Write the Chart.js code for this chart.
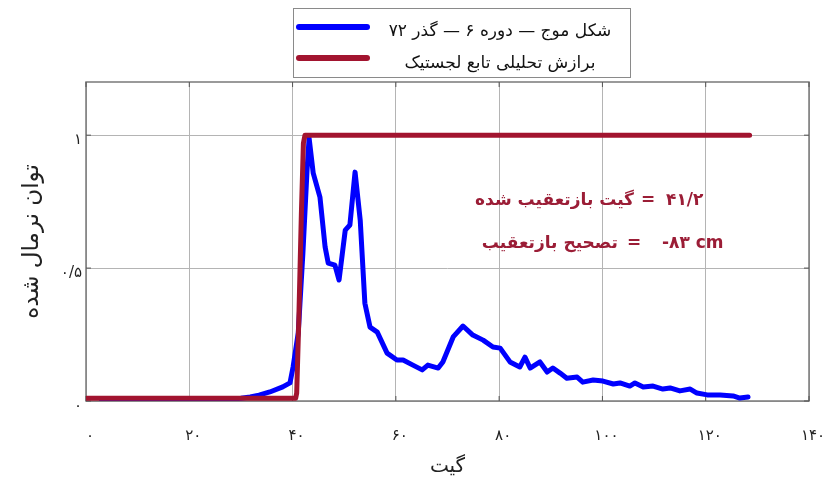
<!DOCTYPE html>
<html><head><meta charset="utf-8">
<script src="https://cdn.jsdelivr.net/npm/chart.js@4"></script>
<style>html,body{margin:0;padding:0;background:#fff;}</style>
</head><body>
<canvas id="c" width="834" height="479"></canvas>
<script>
// ---- data ----
const waveGate = [3, 10, 20, 26, 30, 31.8, 33.5, 35.6, 38.1, 39.5, 40.1, 41.1, 42.0, 42.8, 43.2, 44.0, 45.3, 46.3, 46.9, 48.2, 49.0, 50.2, 51.1, 52.1, 53.1, 54.0, 55.0, 56.4, 58.3, 60.2, 61.4, 63.3, 65.1, 66.2, 68.2, 69.1, 71.1, 73.0, 74.9, 76.9, 78.8, 80.2, 82.1, 84.0, 85.0, 86.0, 87.9, 89.3, 90.4, 91.8, 93.1, 95.1, 96.2, 98.2, 100.1, 102.1, 103.4, 105.3, 106.3, 107.9, 109.8, 111.7, 113.1, 115.0, 117.0, 118.3, 120.3, 122.8, 125.3, 126.6, 128.2];
const wavePower = [0.0, 0.0, 0.002, 0.006, 0.01, 0.015, 0.022, 0.034, 0.053, 0.068, 0.128, 0.256, 0.556, 0.868, 0.989, 0.857, 0.767, 0.579, 0.519, 0.511, 0.455, 0.643, 0.662, 0.861, 0.680, 0.368, 0.278, 0.259, 0.180, 0.154, 0.154, 0.135, 0.117, 0.135, 0.124, 0.147, 0.241, 0.282, 0.248, 0.229, 0.203, 0.199, 0.147, 0.128, 0.165, 0.124, 0.147, 0.109, 0.124, 0.105, 0.086, 0.090, 0.071, 0.079, 0.075, 0.064, 0.068, 0.056, 0.068, 0.053, 0.056, 0.045, 0.049, 0.038, 0.045, 0.030, 0.023, 0.023, 0.019, 0.011, 0.015];
const fitGate = [0, 40.6, 40.8, 41.2, 41.45, 41.7, 42.1, 42.4, 128.5];
const fitPower = [0.01, 0.01, 0.03, 0.3, 0.5, 0.7, 0.97, 1.0, 1.0];
const xTickValues = [0, 20, 40, 60, 80, 100, 120, 140];
const yTickValues = [0, 0.5, 1];
const seriesLabels = ['شکل موج — دوره ۶ — گذر ۷۲', 'برازش تحلیلی تابع لجستیک'];
const xTitle = 'گیت';
const yTitle = 'توان نرمال شده';
const noteLabels = ['گیت بازتعقیب شده', 'تصحیح بازتعقیب'];
const noteValues = ['۴۱/۲', '-۸۳ cm'];

const BLUE = '#0000ff', RED = '#a2142f', NOTE = '#9b1d36';
const FA = 'DejaVu Sans';
const toFa = v => String(v).replace(/\d/g, d => '۰۱۲۳۴۵۶۷۸۹'[d]).replace('.', '/');

const decor = {
  id: 'decor',
  beforeDatasetsDraw(chart) {
    const {ctx, chartArea: a, scales} = chart;
    ctx.save();
    ctx.strokeStyle = '#7a7a7a'; ctx.lineWidth = 1.5;
    ctx.strokeRect(a.left, a.top, a.right - a.left, a.bottom - a.top);
    ctx.strokeStyle = '#555'; ctx.lineWidth = 1;
    ctx.beginPath();
    xTickValues.forEach(v => { const x = scales.x.getPixelForValue(v);
      ctx.moveTo(x, a.bottom); ctx.lineTo(x, a.bottom - 5);
      ctx.moveTo(x, a.top); ctx.lineTo(x, a.top + 5); });
    yTickValues.forEach(v => { const y = scales.y.getPixelForValue(v);
      ctx.moveTo(a.left, y); ctx.lineTo(a.left + 5, y);
      ctx.moveTo(a.right, y); ctx.lineTo(a.right - 5, y); });
    ctx.stroke();
    ctx.restore();
  },
  afterDraw(chart) {
    const {ctx} = chart;
    ctx.save();
    // legend box
    ctx.fillStyle = '#fff'; ctx.strokeStyle = '#8a8a8a'; ctx.lineWidth = 1;
    ctx.fillRect(293.5, 8.5, 337, 69); ctx.strokeRect(293.5, 8.5, 337, 69);
    const rows = [27, 58], tys = [32, 64];
    chart.data.datasets.forEach((ds, i) => {
      ctx.strokeStyle = ds.borderColor; ctx.lineWidth = 6; ctx.lineCap = 'round';
      ctx.beginPath(); ctx.moveTo(299, rows[i]); ctx.lineTo(367, rows[i]); ctx.stroke();
      ctx.fillStyle = '#111'; ctx.font = '17px "' + FA + '"';
      ctx.textAlign = 'center'; ctx.textBaseline = 'middle'; ctx.direction = 'rtl';
      ctx.fillText(ds.label, 500, tys[i]);
    });
    // notes
    ctx.fillStyle = NOTE; ctx.font = 'bold 17px "' + FA + '"'; ctx.textBaseline = 'middle';
    const ny = [201, 244], eqx = [648, 634], vx = [666, 662], lx = [634, 618];
    for (let i = 0; i < 2; i++) {
      ctx.direction = 'ltr'; ctx.textAlign = 'left';
      ctx.fillText(noteValues[i], vx[i], ny[i]);
      ctx.textAlign = 'center'; ctx.fillText('=', eqx[i], ny[i]);
      ctx.direction = 'rtl'; ctx.textAlign = 'right';
      ctx.fillText(noteLabels[i], lx[i], ny[i]);
    }
    ctx.restore();
  }
};

new Chart(document.getElementById('c'), {
  type: 'line',
  data: {
    datasets: [
      { label: seriesLabels[0], data: waveGate.map((g, i) => ({x: g, y: wavePower[i]})),
        borderColor: BLUE, borderWidth: 5, pointRadius: 0, tension: 0, order: 1,
        borderJoinStyle: 'round', borderCapStyle: 'round' },
      { label: seriesLabels[1], data: fitGate.map((g, i) => ({x: g, y: fitPower[i]})),
        borderColor: RED, borderWidth: 5, pointRadius: 0, tension: 0, order: 0,
        borderJoinStyle: 'round', borderCapStyle: 'round' }
    ]
  },
  options: {
    responsive: false, animation: false,
    layout: { padding: { top: 82, right: 25, left: 0, bottom: 0 } },
    plugins: { legend: { display: false }, tooltip: { enabled: false } },
    scales: {
      x: {
        type: 'linear', min: 0, max: 140,
        afterFit: s => { s.height = 78; s.paddingLeft = 0; s.paddingRight = 0; },
        afterBuildTicks: s => { s.ticks = xTickValues.map(v => ({value: v})); },
        grid: { color: '#b4b4b4', lineWidth: 1, drawTicks: false },
        border: { display: false },
        ticks: { padding: 26, labelOffset: 4, color: '#222', font: { family: FA, size: 15 },
                 maxRotation: 0, callback: v => toFa(v) },
        title: { display: true, text: xTitle, color: '#222', font: { family: FA, size: 20 },
                 padding: { top: 0, bottom: 0 } }
      },
      y: {
        min: 0, max: 1.2,
        afterFit: s => { s.width = 86; s.paddingTop = 0; s.paddingBottom = 0; },
        afterBuildTicks: s => { s.ticks = yTickValues.map(v => ({value: v})); },
        grid: { color: '#b4b4b4', lineWidth: 1, drawTicks: false },
        border: { display: false },
        ticks: { padding: 4, labelOffset: 5, color: '#222', font: { family: FA, size: 15 },
                 callback: v => toFa(v) },
        title: { display: true, text: yTitle, color: '#222', font: { family: FA, size: 23 },
                 padding: { top: 18, bottom: 0 } }
      }
    }
  },
  plugins: [decor]
});
</script>
</body></html>
